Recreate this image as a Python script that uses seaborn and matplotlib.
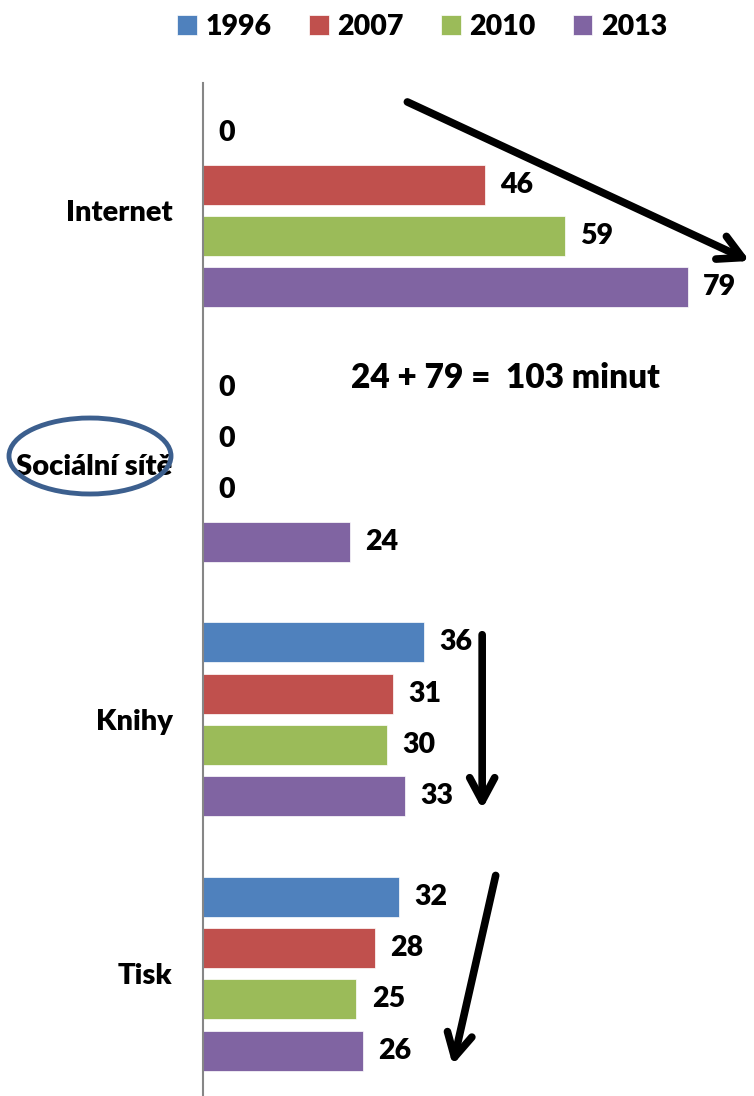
import seaborn as sns
import pandas as pd
import matplotlib.pyplot as plt
from matplotlib.patches import Ellipse

# data
categories = ['Internet', 'Sociální sítě', 'Knihy', 'Tisk']
years = ['1996', '2007', '2010', '2013']
v1996 = [0, 0, 36, 32]
v2007 = [46, 0, 31, 28]
v2010 = [59, 0, 30, 25]
v2013 = [79, 24, 33, 26]
colors = ['#4F81BD', '#C0504D', '#9BBB59', '#8064A2']

rows = []
for yr, vals in zip(years, [v1996, v2007, v2010, v2013]):
    for cat, v in zip(categories, vals):
        rows.append({'kategorie': cat, 'rok': yr, 'minuty': v})
df = pd.DataFrame(rows)

sns.set_theme(style='white')
plt.rcParams['font.family'] = ['Lato', 'DejaVu Sans']
plt.rcParams['font.weight'] = 'bold'
plt.rcParams['text.color'] = 'black'
plt.rcParams['ytick.color'] = 'black'
plt.rcParams['ytick.labelcolor'] = 'black'

fig = plt.figure(figsize=(7.54, 10.96), dpi=100)
ax = fig.add_axes([0.2692, -0.0046, 0.7308, 0.9289])

sns.barplot(data=df, y='kategorie', x='minuty', hue='rok', order=categories,
            hue_order=years, palette=colors, orient='h', width=0.807, gap=0.22,
            saturation=1, edgecolor='white', linewidth=0.5, ax=ax, legend=True)

for cont in ax.containers:
    ax.bar_label(cont, padding=11, fontsize=20.5, fontweight='heavy', color='black')

ax.set_xlim(0, 89.8)
ax.set_ylim(3.5, -0.5)
ax.set_xlabel('')
ax.set_ylabel('')
ax.set_xticks([])
ax.tick_params(axis='y', length=0, pad=22, labelsize=21, labelcolor='black')
for lab in ax.get_yticklabels():
    lab.set_fontweight('heavy')
for s in ['top', 'right', 'bottom']:
    ax.spines[s].set_visible(False)
ax.spines['left'].set_color('#868686')
ax.spines['left'].set_linewidth(1.5)

# legend on top
handles, labels = ax.get_legend_handles_labels()
ax.get_legend().remove()
fig.legend(handles, labels, loc='center', bbox_to_anchor=(0.56, 0.975), ncol=4,
           frameon=False, handlelength=0.7, handleheight=0.7, handletextpad=0.3,
           columnspacing=1.3, labelcolor='black', prop={'size': 20.5, 'weight': 'heavy'})

# trend arrows
arrow = dict(arrowstyle='->,head_length=1.4,head_width=0.75', lw=5.5, color='black')
ax.annotate('', xy=(89.5, 0.204), xytext=(32.9, -0.43), arrowprops=arrow,
            annotation_clip=False)
ax.annotate('', xy=(45.5, 2.364), xytext=(45.5, 1.657), arrowprops=arrow)
ax.annotate('', xy=(40.6, 3.369), xytext=(47.8, 2.603), arrowprops=arrow)

ax.text(49.3, 0.66, '24 + 79 =  103 minut', ha='center', va='center',
        fontsize=24, fontweight='heavy', color='black')

# ellipse round the social networks label
ell = Ellipse((90 / 754, 1 - 456 / 1096), 162 / 754, 76 / 1096,
              transform=fig.transFigure, fill=False, edgecolor='#3C5F8E', lw=3.5)
fig.add_artist(ell)

fig.savefig('out.png', dpi=100)
